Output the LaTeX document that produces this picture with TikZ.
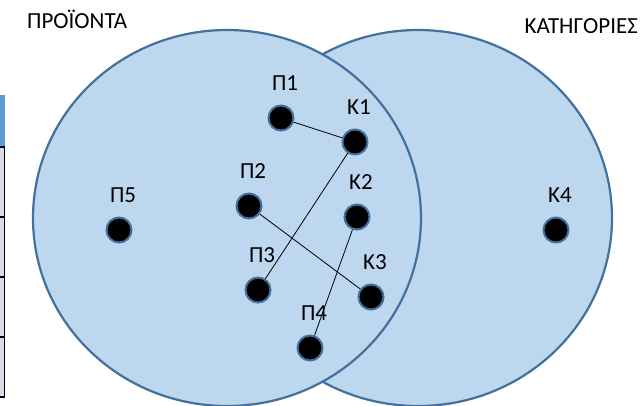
\documentclass[tikz,border=0pt]{standalone}
\usepackage{fontspec}
\setmainfont{Carlito}
\usetikzlibrary{positioning,shapes}
\definecolor{setfill}{HTML}{BDD7EE}
\definecolor{setline}{HTML}{41719C}
\definecolor{hdrblue}{HTML}{5B9BD5}
\definecolor{cellfill}{HTML}{D6DCE5}
\begin{document}
\begin{tikzpicture}[x=1pt,y=-1pt,
    set/.style={fill=setfill,draw=setline,line width=2.2pt},
    ele/.style={fill=black,draw=setline,circle,line width=2pt,minimum size=25pt,inner sep=0pt},
    every label/.style={inner sep=0pt,label distance=14pt,xshift=4pt,font=\fontsize{23}{27}\selectfont},
    cell/.style={fill=cellfill,draw=black,line width=1.6pt}]
     \useasboundingbox (0,0) rectangle (641,405);
     % table edge on the left
     \fill[hdrblue] (0,95) rectangle (4.5,147);
     \draw[cell] (-3,147) rectangle (4.5,217);
     \draw[cell] (-3,217) rectangle (4.5,277);
     \draw[cell] (-3,277) rectangle (4.5,337);
     \draw[cell] (-3,337) rectangle (4.5,397);

     % the two sets
     \draw[set] (418,218) ellipse [x radius=194pt,y radius=188pt];
     \draw[set] (227,218) ellipse [x radius=194pt,y radius=188pt];
     \node[anchor=base west,inner sep=0pt,font=\fontsize{23}{27}\selectfont] (tp) at (27,28) {ΠΡΟΪΟΝΤΑ};
     \node[anchor=base east,inner sep=0pt,font=\fontsize{23}{27}\selectfont] (tk) at (638,33) {ΚΑΤΗΓΟΡΙΕΣ};

     \node[ele,label=above:Π1] (p1) at (281,118) {};
     \node[ele,label=above:Π2] (p2) at (249,206) {};
     \node[ele,label=above:Π3] (p3) at (258,290) {};
     \node[ele,label=above:Π4] (p4) at (310,348) {};
     \node[ele,label=above:Π5] (p5) at (119,230) {};

     \node[ele,label=above:Κ1] (k1) at (355,142) {};
     \node[ele,label=above:Κ2] (k2) at (357,217) {};
     \node[ele,label=above:Κ3] (k3) at (371,297) {};
     \node[ele,label=above:Κ4] (k4) at (556,230) {};

     \draw[line width=0.8pt] (p1) -- (k1);
     \draw[line width=0.8pt] (k1) -- (p3);
     \draw[line width=0.8pt] (p2) -- (k3);
     \draw[line width=0.8pt] (k2) -- (p4);
\end{tikzpicture}
\end{document}
